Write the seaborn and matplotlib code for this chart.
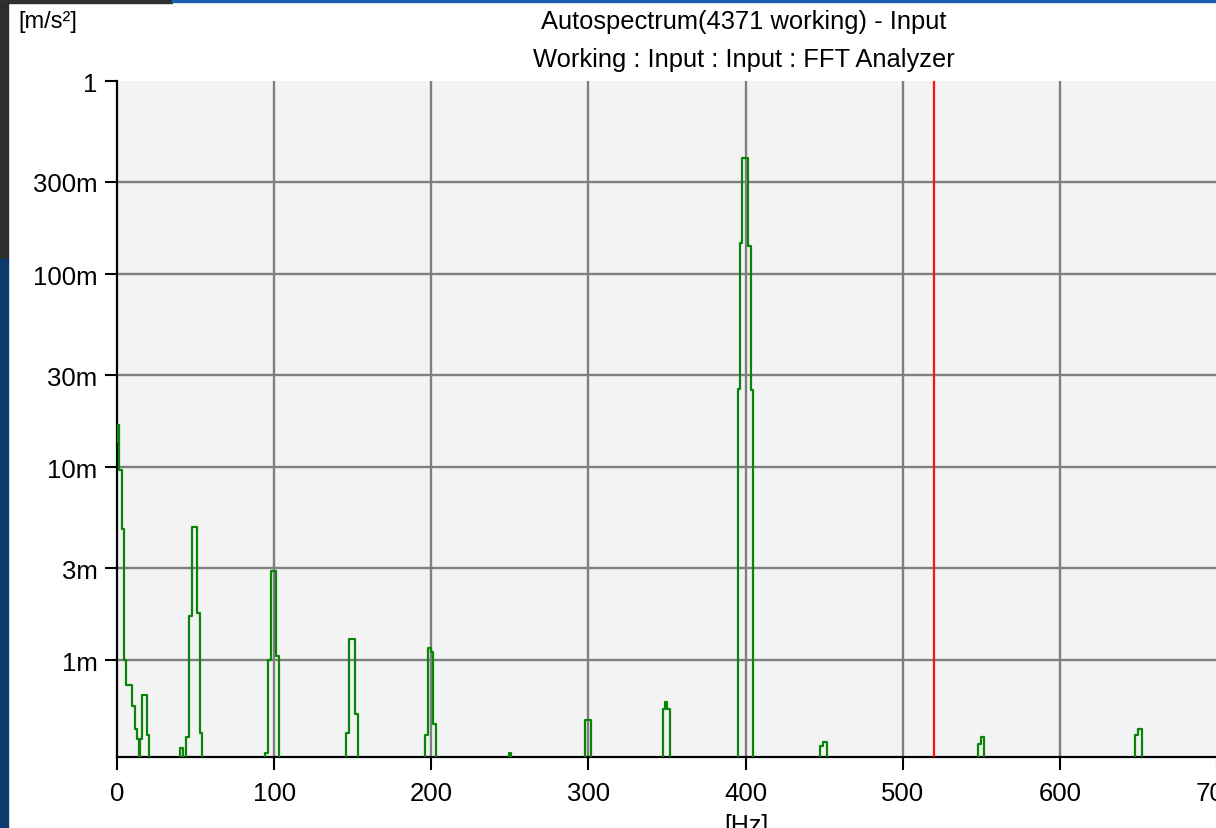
import matplotlib
matplotlib.use("Agg")
import matplotlib.pyplot as plt
from matplotlib.patches import Rectangle
from matplotlib.ticker import NullLocator
import pandas as pd
import seaborn as sns

# ---------------- data ----------------
# step points (frequency where a level starts, amplitude of that level)
# FLOOR marks levels that lie below the visible axis range
FLOOR = 1e-5
freq_hz = [0.0, 0.5, 1.3, 3.0, 4.5, 5.5, 9.8, 11.5, 13.0, 14.0, 14.8, 15.8, 19.0, 20.4,
           40.0, 42.0, 44.0, 46.0, 47.6, 51.2, 52.9, 54.3,
           94.3, 95.8, 97.9, 101.0, 103.2,
           146.0, 147.6, 151.6, 153.1,
           196.2, 197.7, 199.5, 201.0, 203.0,
           249.5, 250.5,
           297.5, 301.7,
           347.3, 348.8, 350.0, 351.6,
           394.9, 396.6, 397.8, 401.7, 403.2, 404.5,
           447.5, 449.3, 451.7,
           547.6, 549.5, 551.6,
           647.8, 649.5, 652.0, 700.0]
amp_ms2 = [13.5e-3, 16.5e-3, 9.7e-3, 4.8e-3, 1.0e-3, 0.75e-3, 0.58e-3, 0.44e-3, 0.39e-3, FLOOR, 0.39e-3, 0.66e-3, 0.41e-3, FLOOR,
           0.35e-3, FLOOR, 0.40e-3, 1.7e-3, 4.9e-3, 1.77e-3, 0.42e-3, FLOOR,
           0.33e-3, 1.0e-3, 2.9e-3, 1.05e-3, FLOOR,
           0.42e-3, 1.29e-3, 0.53e-3, FLOOR,
           0.41e-3, 1.16e-3, 1.1e-3, 0.47e-3, FLOOR,
           0.33e-3, FLOOR,
           0.49e-3, FLOOR,
           0.56e-3, 0.61e-3, 0.56e-3, FLOOR,
           0.0255, 0.145, 0.40, 0.14, 0.025, FLOOR,
           0.36e-3, 0.38e-3, FLOOR,
           0.37e-3, 0.40e-3, FLOOR,
           0.41e-3, 0.44e-3, FLOOR, FLOOR]

x_ticks = [0, 100, 200, 300, 400, 500, 600, 700]
y_ticks = [1, 0.3, 0.1, 0.03, 0.01, 0.003, 0.001]
y_tick_labels = ["1", "300m", "100m", "30m", "10m", "3m", "1m"]
cursor_hz = 520
title_1 = "Autospectrum(4371 working) - Input"
title_2 = "Working : Input : Input : FFT Analyzer"
y_unit = "[m/s²]"
x_unit = "[Hz]"

# ---------------- figure ----------------
sns.set_theme(style="white")
plt.rcParams["font.family"] = ["Liberation Sans", "DejaVu Sans"]

W, H = 1216, 829
fig = plt.figure(figsize=(W / 100, H / 100), dpi=100)
fig.patch.set_facecolor("white")

# desktop / window edges visible in the screenshot
fig.patches.append(Rectangle((0, 1 - 260 / H), 8 / W, 260 / H, transform=fig.transFigure,
                             color="#2b2f2c", zorder=0))
fig.patches.append(Rectangle((0, 0), 8 / W, 1 - 260 / H, transform=fig.transFigure,
                             color="#0b3a6e", zorder=0))
fig.patches.append(Rectangle((0, 1 - 4 / H), 172 / W, 4 / H, transform=fig.transFigure,
                             color="#303030", zorder=0))
fig.patches.append(Rectangle((172 / W, 1 - 3 / H), 1 - 172 / W, 3 / H, transform=fig.transFigure,
                             color="#1b5fb5", zorder=0))

left, right, top, bottom = 117, 1217, 82, 758
ax = fig.add_axes([left / W, 1 - bottom / H, (right - left) / W, (bottom - top) / H])
ax.set_facecolor("#F3F3F3")

df = pd.DataFrame({"Frequency": freq_hz, "Amplitude": amp_ms2})
sns.lineplot(data=df, x="Frequency", y="Amplitude", ax=ax, color="#0a850a", lw=1.6,
             drawstyle="steps-post", estimator=None, sort=False, zorder=3)

ax.set_yscale("log")
ax.set_xlim(0, 700)
ax.set_ylim(10 ** -3.5, 1)
ax.set_xticks(x_ticks)
ax.set_xticklabels([str(t) for t in x_ticks])
ax.set_yticks(y_ticks)
ax.set_yticklabels(y_tick_labels)
ax.yaxis.set_minor_locator(NullLocator())
ax.xaxis.set_minor_locator(NullLocator())
ax.set_xlabel("")
ax.set_ylabel("")

# grid (no line on the top edge)
for t in y_ticks[1:]:
    ax.axhline(t, color="#7f7f7f", lw=1.7, zorder=1)
for t in x_ticks[1:-1]:
    ax.axvline(t, color="#7f7f7f", lw=1.7, zorder=1)

ax.axvline(cursor_hz, color="#ff1010", lw=1.6, zorder=4)

for side in ["top", "right"]:
    ax.spines[side].set_visible(False)
for side in ["left", "bottom"]:
    ax.spines[side].set_visible(True)
    ax.spines[side].set_color("black")
    ax.spines[side].set_linewidth(1.6)

ax.tick_params(axis="both", which="major", direction="out", length=9, width=1.5,
               colors="black", labelsize=18.5, left=True, bottom=True)
ax.tick_params(axis="y", pad=5)
ax.tick_params(axis="x", pad=8)

fig.text(744 / W, 1 - 22 / H, title_1, ha="center", va="center", fontsize=18.4, color="black")
fig.text(744 / W, 1 - 60 / H, title_2, ha="center", va="center", fontsize=18.4, color="black")
fig.text(18 / W, 1 - 22 / H, y_unit, ha="left", va="center", fontsize=17, color="black")
fig.text(746 / W, 1 - 826 / H, x_unit, ha="center", va="center", fontsize=18, color="black")

fig.savefig("out.png", dpi=100)
